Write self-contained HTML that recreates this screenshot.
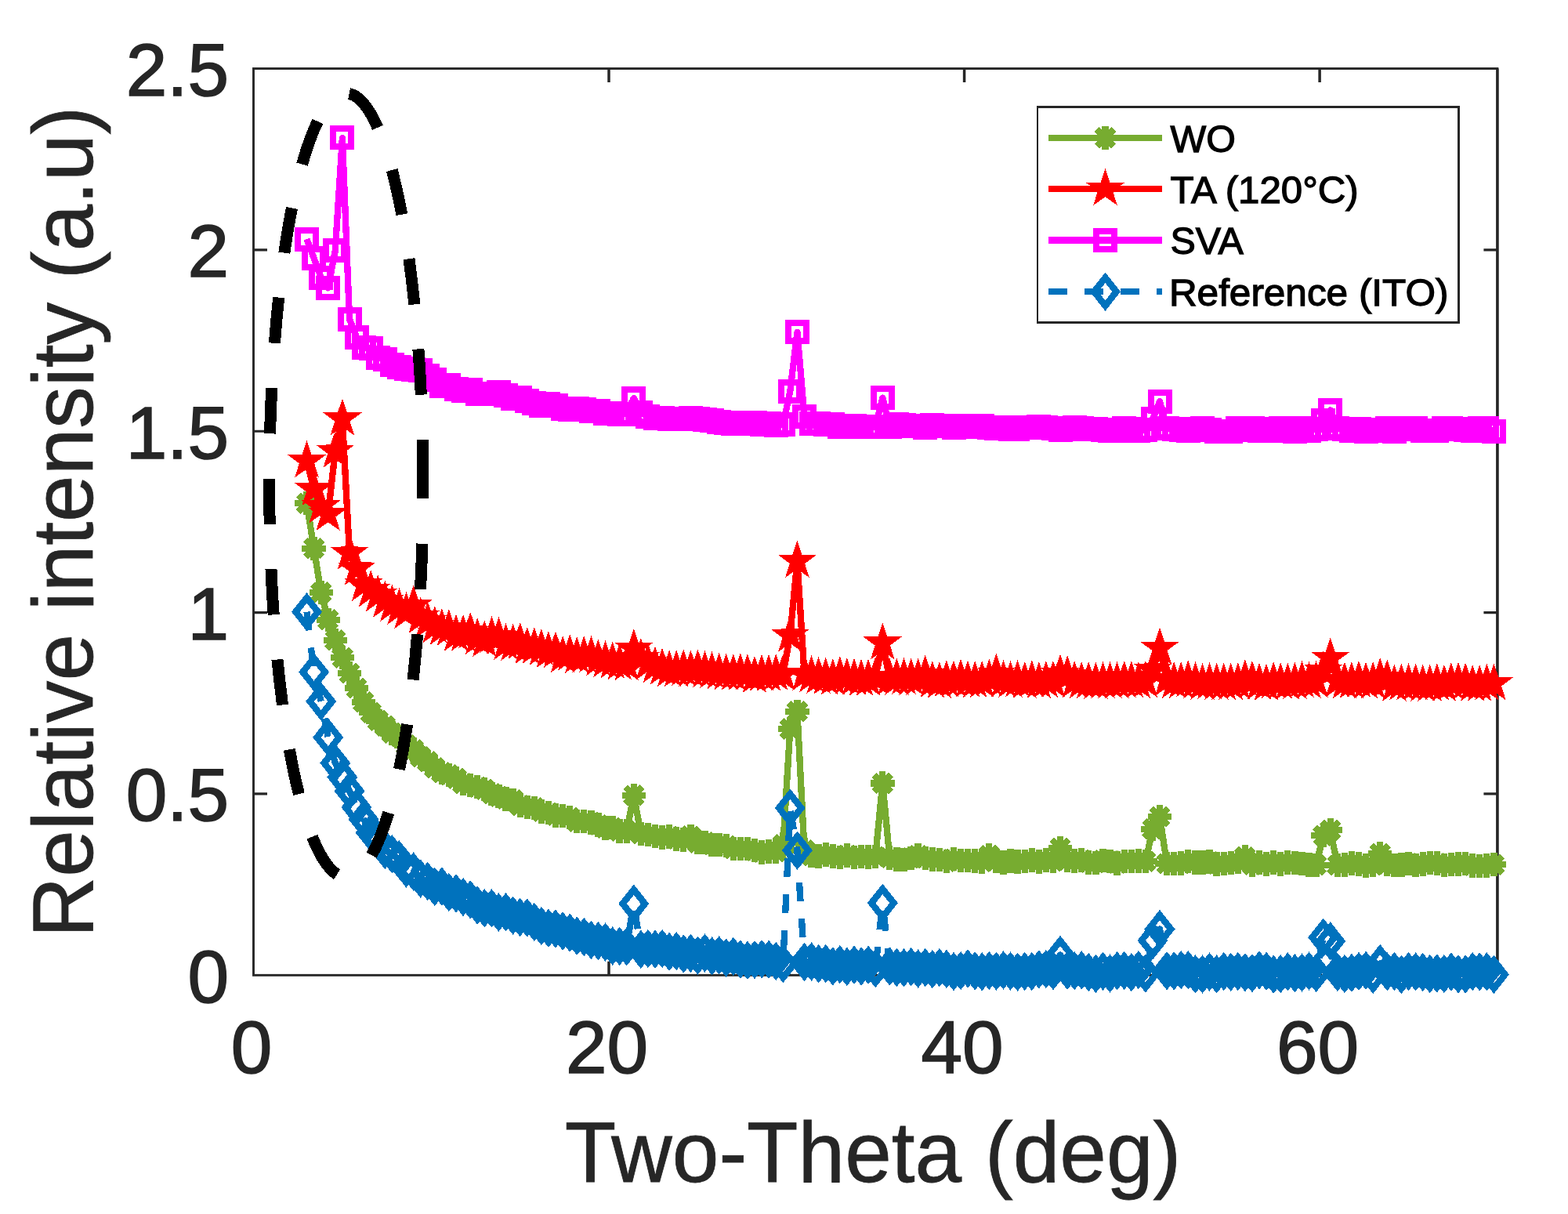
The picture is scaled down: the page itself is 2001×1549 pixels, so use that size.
<!DOCTYPE html><html><head><meta charset="utf-8"><title>XRD plot</title><style>html,body{margin:0;padding:0;background:#fff;width:2001px;height:1549px;overflow:hidden}svg{display:block}</style></head><body><svg width="2001" height="1549" viewBox="0 0 2001 1549" font-family="'Liberation Sans', Arial, Helvetica, sans-serif"><defs>
<path id="mA" d="M0,-15.2V15.2M-15.2,0H15.2M-10.75,-10.75L10.75,10.75M-10.75,10.75L10.75,-10.75" stroke="#77AC30" stroke-width="8.33" fill="none" stroke-linecap="butt"/>
<polygon id="mS" points="0.00,-26.00 6.00,-8.25 24.73,-8.03 9.70,3.15 15.28,21.03 0.00,10.20 -15.28,21.03 -9.70,3.15 -24.73,-8.03 -6.00,-8.25" fill="#FF0000"/>
<rect id="mQ" x="-11.5" y="-11.5" width="23" height="23" fill="none" stroke="#FF00FF" stroke-width="8"/>
<polygon id="mD" points="0,-17.9 14.2,0 0,17.9 -14.2,0" fill="none" stroke="#0072BD" stroke-width="8.4" stroke-linejoin="miter"/>
</defs><rect width="2001" height="1549" fill="#fff"/><rect x="323.5" y="87.5" width="1587.4" height="1156.8" fill="none" stroke="#262626" stroke-width="2.9"/><path d="M1910.9,87.5V1244.3" stroke="#262626" stroke-width="3.4" fill="none"/><path d="M777,1244.3V1226.8M777,87.5V105M1230.6,1244.3V1226.8M1230.6,87.5V105M1684.1,1244.3V1226.8M1684.1,87.5V105" stroke="#262626" stroke-width="3.5" fill="none"/><path d="M323.5,1012.9H341M1910.9,1012.9H1893.4M323.5,781.6H341M1910.9,781.6H1893.4M323.5,550.2H341M1910.9,550.2H1893.4M323.5,318.9H341M1910.9,318.9H1893.4" stroke="#262626" stroke-width="3.1" fill="none"/><g shape-rendering="crispEdges"><polyline points="391.5,642.3 400.6,699.7 409.7,756.1 418.7,790.8 427.8,816.9 436.9,839.3 446,859.1 455,877.9 464.1,895.7 473.2,909.1 482.2,919.5 491.3,926.6 500.4,935.4 509.5,939.8 518.5,950.4 527.6,956.4 536.7,965.5 545.7,972 554.8,979.9 563.9,985.7 572.9,988.9 582,993.2 591.1,999.8 600.2,1001.9 609.2,1004.3 618.3,1007.1 627.4,1012.9 636.4,1016.3 645.5,1019.4 654.6,1020.7 663.7,1027.5 672.7,1030 681.8,1031.1 690.9,1035.3 699.9,1037 709,1040.5 718.1,1041.2 727.2,1042.8 736.2,1048.2 745.3,1047.9 754.4,1049.4 763.4,1052.6 772.5,1056.3 781.6,1056.2 790.6,1060.3 799.7,1060.5 808.8,1014.8 817.9,1063.8 826.9,1065.1 836,1067 845.1,1068.6 854.1,1067.4 863.2,1070.4 872.3,1071.5 881.4,1067.1 890.4,1075.2 899.5,1074.9 908.6,1078.1 917.6,1078 926.7,1079.2 935.8,1082.9 944.9,1083.1 953.9,1083.2 963,1085.2 972.1,1087.4 981.1,1086.4 990.2,1086.7 999.3,1077.7 1008.3,930.1 1017.4,907.9 1026.5,1084.7 1035.6,1091.9 1044.6,1092.4 1053.7,1090.5 1062.8,1092.5 1071.8,1093.8 1080.9,1091.4 1090,1094 1099.1,1092.9 1108.1,1093.4 1117.2,1093.2 1126.3,999.5 1135.3,1094.4 1144.4,1096.3 1153.5,1096.9 1162.6,1094.9 1171.6,1091.6 1180.7,1095.2 1189.8,1096.6 1198.8,1097 1207.9,1099.1 1217,1096.2 1226.1,1098.2 1235.1,1097.9 1244.2,1098.6 1253.3,1099.3 1262.3,1091.6 1271.4,1098.3 1280.5,1100.5 1289.5,1098.3 1298.6,1099.5 1307.7,1098.8 1316.8,1097.5 1325.8,1099.5 1334.9,1097.6 1344,1098.7 1353,1081.9 1362.1,1097.7 1371.2,1098.6 1380.3,1097.5 1389.3,1100.6 1398.4,1100.8 1407.5,1097.9 1416.5,1098.9 1425.6,1101.3 1434.7,1098.8 1443.8,1098.9 1452.8,1098.3 1461.9,1099.2 1471,1057.8 1480,1042.1 1489.1,1102 1498.2,1102.1 1507.2,1101.4 1516.3,1099.2 1525.4,1100.5 1534.5,1100.6 1543.5,1099.6 1552.6,1102.4 1561.7,1101.9 1570.7,1100.9 1579.8,1099.5 1588.9,1093.5 1598,1103.3 1607,1100.5 1616.1,1102.7 1625.2,1100.6 1634.2,1102.3 1643.3,1100.6 1652.4,1101.1 1661.5,1101.9 1670.5,1103.5 1679.6,1103.8 1688.7,1066.2 1697.7,1059.2 1706.8,1103.8 1715.9,1103.4 1724.9,1101.7 1734,1102.3 1743.1,1104.4 1752.2,1104.2 1761.2,1089.3 1770.3,1102.5 1779.4,1103.9 1788.4,1103.7 1797.5,1101.9 1806.6,1104 1815.7,1102.6 1824.7,1101.2 1833.8,1101.7 1842.9,1104 1851.9,1103.1 1861,1102.6 1870.1,1101.9 1879.2,1104.4 1888.2,1104.9 1897.3,1104.7 1906.4,1103.2" fill="none" stroke="#77AC30" stroke-width="8.33" stroke-linejoin="round"/><use href="#mA" x="391.5" y="642.3"/><use href="#mA" x="400.6" y="699.7"/><use href="#mA" x="409.7" y="756.1"/><use href="#mA" x="418.7" y="790.8"/><use href="#mA" x="427.8" y="816.9"/><use href="#mA" x="436.9" y="839.3"/><use href="#mA" x="446" y="859.1"/><use href="#mA" x="455" y="877.9"/><use href="#mA" x="464.1" y="895.7"/><use href="#mA" x="473.2" y="909.1"/><use href="#mA" x="482.2" y="919.5"/><use href="#mA" x="491.3" y="926.6"/><use href="#mA" x="500.4" y="935.4"/><use href="#mA" x="509.5" y="939.8"/><use href="#mA" x="518.5" y="950.4"/><use href="#mA" x="527.6" y="956.4"/><use href="#mA" x="536.7" y="965.5"/><use href="#mA" x="545.7" y="972"/><use href="#mA" x="554.8" y="979.9"/><use href="#mA" x="563.9" y="985.7"/><use href="#mA" x="572.9" y="988.9"/><use href="#mA" x="582" y="993.2"/><use href="#mA" x="591.1" y="999.8"/><use href="#mA" x="600.2" y="1001.9"/><use href="#mA" x="609.2" y="1004.3"/><use href="#mA" x="618.3" y="1007.1"/><use href="#mA" x="627.4" y="1012.9"/><use href="#mA" x="636.4" y="1016.3"/><use href="#mA" x="645.5" y="1019.4"/><use href="#mA" x="654.6" y="1020.7"/><use href="#mA" x="663.7" y="1027.5"/><use href="#mA" x="672.7" y="1030"/><use href="#mA" x="681.8" y="1031.1"/><use href="#mA" x="690.9" y="1035.3"/><use href="#mA" x="699.9" y="1037"/><use href="#mA" x="709" y="1040.5"/><use href="#mA" x="718.1" y="1041.2"/><use href="#mA" x="727.2" y="1042.8"/><use href="#mA" x="736.2" y="1048.2"/><use href="#mA" x="745.3" y="1047.9"/><use href="#mA" x="754.4" y="1049.4"/><use href="#mA" x="763.4" y="1052.6"/><use href="#mA" x="772.5" y="1056.3"/><use href="#mA" x="781.6" y="1056.2"/><use href="#mA" x="790.6" y="1060.3"/><use href="#mA" x="799.7" y="1060.5"/><use href="#mA" x="808.8" y="1014.8"/><use href="#mA" x="817.9" y="1063.8"/><use href="#mA" x="826.9" y="1065.1"/><use href="#mA" x="836" y="1067"/><use href="#mA" x="845.1" y="1068.6"/><use href="#mA" x="854.1" y="1067.4"/><use href="#mA" x="863.2" y="1070.4"/><use href="#mA" x="872.3" y="1071.5"/><use href="#mA" x="881.4" y="1067.1"/><use href="#mA" x="890.4" y="1075.2"/><use href="#mA" x="899.5" y="1074.9"/><use href="#mA" x="908.6" y="1078.1"/><use href="#mA" x="917.6" y="1078"/><use href="#mA" x="926.7" y="1079.2"/><use href="#mA" x="935.8" y="1082.9"/><use href="#mA" x="944.9" y="1083.1"/><use href="#mA" x="953.9" y="1083.2"/><use href="#mA" x="963" y="1085.2"/><use href="#mA" x="972.1" y="1087.4"/><use href="#mA" x="981.1" y="1086.4"/><use href="#mA" x="990.2" y="1086.7"/><use href="#mA" x="999.3" y="1077.7"/><use href="#mA" x="1008.3" y="930.1"/><use href="#mA" x="1017.4" y="907.9"/><use href="#mA" x="1026.5" y="1084.7"/><use href="#mA" x="1035.6" y="1091.9"/><use href="#mA" x="1044.6" y="1092.4"/><use href="#mA" x="1053.7" y="1090.5"/><use href="#mA" x="1062.8" y="1092.5"/><use href="#mA" x="1071.8" y="1093.8"/><use href="#mA" x="1080.9" y="1091.4"/><use href="#mA" x="1090" y="1094"/><use href="#mA" x="1099.1" y="1092.9"/><use href="#mA" x="1108.1" y="1093.4"/><use href="#mA" x="1117.2" y="1093.2"/><use href="#mA" x="1126.3" y="999.5"/><use href="#mA" x="1135.3" y="1094.4"/><use href="#mA" x="1144.4" y="1096.3"/><use href="#mA" x="1153.5" y="1096.9"/><use href="#mA" x="1162.6" y="1094.9"/><use href="#mA" x="1171.6" y="1091.6"/><use href="#mA" x="1180.7" y="1095.2"/><use href="#mA" x="1189.8" y="1096.6"/><use href="#mA" x="1198.8" y="1097"/><use href="#mA" x="1207.9" y="1099.1"/><use href="#mA" x="1217" y="1096.2"/><use href="#mA" x="1226.1" y="1098.2"/><use href="#mA" x="1235.1" y="1097.9"/><use href="#mA" x="1244.2" y="1098.6"/><use href="#mA" x="1253.3" y="1099.3"/><use href="#mA" x="1262.3" y="1091.6"/><use href="#mA" x="1271.4" y="1098.3"/><use href="#mA" x="1280.5" y="1100.5"/><use href="#mA" x="1289.5" y="1098.3"/><use href="#mA" x="1298.6" y="1099.5"/><use href="#mA" x="1307.7" y="1098.8"/><use href="#mA" x="1316.8" y="1097.5"/><use href="#mA" x="1325.8" y="1099.5"/><use href="#mA" x="1334.9" y="1097.6"/><use href="#mA" x="1344" y="1098.7"/><use href="#mA" x="1353" y="1081.9"/><use href="#mA" x="1362.1" y="1097.7"/><use href="#mA" x="1371.2" y="1098.6"/><use href="#mA" x="1380.3" y="1097.5"/><use href="#mA" x="1389.3" y="1100.6"/><use href="#mA" x="1398.4" y="1100.8"/><use href="#mA" x="1407.5" y="1097.9"/><use href="#mA" x="1416.5" y="1098.9"/><use href="#mA" x="1425.6" y="1101.3"/><use href="#mA" x="1434.7" y="1098.8"/><use href="#mA" x="1443.8" y="1098.9"/><use href="#mA" x="1452.8" y="1098.3"/><use href="#mA" x="1461.9" y="1099.2"/><use href="#mA" x="1471" y="1057.8"/><use href="#mA" x="1480" y="1042.1"/><use href="#mA" x="1489.1" y="1102"/><use href="#mA" x="1498.2" y="1102.1"/><use href="#mA" x="1507.2" y="1101.4"/><use href="#mA" x="1516.3" y="1099.2"/><use href="#mA" x="1525.4" y="1100.5"/><use href="#mA" x="1534.5" y="1100.6"/><use href="#mA" x="1543.5" y="1099.6"/><use href="#mA" x="1552.6" y="1102.4"/><use href="#mA" x="1561.7" y="1101.9"/><use href="#mA" x="1570.7" y="1100.9"/><use href="#mA" x="1579.8" y="1099.5"/><use href="#mA" x="1588.9" y="1093.5"/><use href="#mA" x="1598" y="1103.3"/><use href="#mA" x="1607" y="1100.5"/><use href="#mA" x="1616.1" y="1102.7"/><use href="#mA" x="1625.2" y="1100.6"/><use href="#mA" x="1634.2" y="1102.3"/><use href="#mA" x="1643.3" y="1100.6"/><use href="#mA" x="1652.4" y="1101.1"/><use href="#mA" x="1661.5" y="1101.9"/><use href="#mA" x="1670.5" y="1103.5"/><use href="#mA" x="1679.6" y="1103.8"/><use href="#mA" x="1688.7" y="1066.2"/><use href="#mA" x="1697.7" y="1059.2"/><use href="#mA" x="1706.8" y="1103.8"/><use href="#mA" x="1715.9" y="1103.4"/><use href="#mA" x="1724.9" y="1101.7"/><use href="#mA" x="1734" y="1102.3"/><use href="#mA" x="1743.1" y="1104.4"/><use href="#mA" x="1752.2" y="1104.2"/><use href="#mA" x="1761.2" y="1089.3"/><use href="#mA" x="1770.3" y="1102.5"/><use href="#mA" x="1779.4" y="1103.9"/><use href="#mA" x="1788.4" y="1103.7"/><use href="#mA" x="1797.5" y="1101.9"/><use href="#mA" x="1806.6" y="1104"/><use href="#mA" x="1815.7" y="1102.6"/><use href="#mA" x="1824.7" y="1101.2"/><use href="#mA" x="1833.8" y="1101.7"/><use href="#mA" x="1842.9" y="1104"/><use href="#mA" x="1851.9" y="1103.1"/><use href="#mA" x="1861" y="1102.6"/><use href="#mA" x="1870.1" y="1101.9"/><use href="#mA" x="1879.2" y="1104.4"/><use href="#mA" x="1888.2" y="1104.9"/><use href="#mA" x="1897.3" y="1104.7"/><use href="#mA" x="1906.4" y="1103.2"/><polyline points="391.5,588.2 400.6,624.3 409.7,646.5 418.7,656.2 427.8,575.7 436.9,534.5 446,705.7 455,725.6 464.1,746 473.2,753.4 482.2,759.4 491.3,766.8 500.4,771.9 509.5,776 518.5,781.1 527.6,772.8 536.7,787.1 545.7,793.1 554.8,799.2 563.9,801.9 572.9,802.9 582,809.8 591.1,809.8 600.2,806.6 609.2,814 618.3,817.2 627.4,812.1 636.4,813 645.5,820.9 654.6,821.8 663.7,820 672.7,826 681.8,826 690.9,827.9 699.9,831.1 709,831.1 718.1,837.1 727.2,834.8 736.2,838 745.3,837.1 754.4,837.1 763.4,841.3 772.5,843.1 781.6,844.5 790.6,846.4 799.7,847.3 808.8,827.9 817.9,839.9 826.9,846.4 836,850.1 845.1,852.4 854.1,855.2 863.2,855.2 872.3,854.2 881.4,855.2 890.4,854.2 899.5,856.1 908.6,857 917.6,858.4 926.7,859.3 935.8,859.8 944.9,859.3 953.9,859.8 963,863 972.1,860.7 981.1,860.7 990.2,859.8 999.3,860.2 1008.3,810.7 1017.4,715.9 1026.5,860.2 1035.6,862.1 1044.6,863.9 1053.7,864.9 1062.8,865.8 1071.8,863 1080.9,864.9 1090,865.8 1099.1,866.7 1108.1,866.7 1117.2,864.4 1126.3,820.4 1135.3,865.8 1144.4,865.8 1153.5,864.9 1162.6,865.8 1171.6,865.8 1180.7,861.2 1189.8,869 1198.8,870 1207.9,868.1 1217,868.1 1226.1,866.7 1235.1,868.6 1244.2,869 1253.3,869 1262.3,866.3 1271.4,859.8 1280.5,868.1 1289.5,869 1298.6,868.1 1307.7,870 1316.8,868.1 1325.8,870 1334.9,869 1344,869 1353,860.2 1362.1,862.1 1371.2,869 1380.3,870 1389.3,870 1398.4,870.9 1407.5,870 1416.5,870 1425.6,870 1434.7,869 1443.8,869 1452.8,870 1461.9,869 1471,854.7 1480,826.9 1489.1,867.2 1498.2,870 1507.2,870 1516.3,868.1 1525.4,870 1534.5,871.8 1543.5,870.9 1552.6,871.8 1561.7,871.8 1570.7,871.8 1579.8,870.9 1588.9,867.2 1598,869 1607,871.8 1616.1,872.7 1625.2,870 1634.2,870.9 1643.3,871.8 1652.4,870.9 1661.5,869 1670.5,870 1679.6,869 1688.7,856.1 1697.7,839.9 1706.8,868.6 1715.9,870.4 1724.9,870 1734,869 1743.1,870.4 1752.2,870.4 1761.2,865.3 1770.3,867.2 1779.4,873.7 1788.4,872.3 1797.5,872.3 1806.6,872.3 1815.7,873.7 1824.7,873.7 1833.8,872.3 1842.9,873.7 1851.9,871.3 1861,870.4 1870.1,871.3 1879.2,873.7 1888.2,873.7 1897.3,872.3 1906.4,872.3" fill="none" stroke="#FF0000" stroke-width="8.33" stroke-linejoin="round"/><use href="#mS" x="391.5" y="588.2"/><use href="#mS" x="400.6" y="624.3"/><use href="#mS" x="409.7" y="646.5"/><use href="#mS" x="418.7" y="656.2"/><use href="#mS" x="427.8" y="575.7"/><use href="#mS" x="436.9" y="534.5"/><use href="#mS" x="446" y="705.7"/><use href="#mS" x="455" y="725.6"/><use href="#mS" x="464.1" y="746"/><use href="#mS" x="473.2" y="753.4"/><use href="#mS" x="482.2" y="759.4"/><use href="#mS" x="491.3" y="766.8"/><use href="#mS" x="500.4" y="771.9"/><use href="#mS" x="509.5" y="776"/><use href="#mS" x="518.5" y="781.1"/><use href="#mS" x="527.6" y="772.8"/><use href="#mS" x="536.7" y="787.1"/><use href="#mS" x="545.7" y="793.1"/><use href="#mS" x="554.8" y="799.2"/><use href="#mS" x="563.9" y="801.9"/><use href="#mS" x="572.9" y="802.9"/><use href="#mS" x="582" y="809.8"/><use href="#mS" x="591.1" y="809.8"/><use href="#mS" x="600.2" y="806.6"/><use href="#mS" x="609.2" y="814"/><use href="#mS" x="618.3" y="817.2"/><use href="#mS" x="627.4" y="812.1"/><use href="#mS" x="636.4" y="813"/><use href="#mS" x="645.5" y="820.9"/><use href="#mS" x="654.6" y="821.8"/><use href="#mS" x="663.7" y="820"/><use href="#mS" x="672.7" y="826"/><use href="#mS" x="681.8" y="826"/><use href="#mS" x="690.9" y="827.9"/><use href="#mS" x="699.9" y="831.1"/><use href="#mS" x="709" y="831.1"/><use href="#mS" x="718.1" y="837.1"/><use href="#mS" x="727.2" y="834.8"/><use href="#mS" x="736.2" y="838"/><use href="#mS" x="745.3" y="837.1"/><use href="#mS" x="754.4" y="837.1"/><use href="#mS" x="763.4" y="841.3"/><use href="#mS" x="772.5" y="843.1"/><use href="#mS" x="781.6" y="844.5"/><use href="#mS" x="790.6" y="846.4"/><use href="#mS" x="799.7" y="847.3"/><use href="#mS" x="808.8" y="827.9"/><use href="#mS" x="817.9" y="839.9"/><use href="#mS" x="826.9" y="846.4"/><use href="#mS" x="836" y="850.1"/><use href="#mS" x="845.1" y="852.4"/><use href="#mS" x="854.1" y="855.2"/><use href="#mS" x="863.2" y="855.2"/><use href="#mS" x="872.3" y="854.2"/><use href="#mS" x="881.4" y="855.2"/><use href="#mS" x="890.4" y="854.2"/><use href="#mS" x="899.5" y="856.1"/><use href="#mS" x="908.6" y="857"/><use href="#mS" x="917.6" y="858.4"/><use href="#mS" x="926.7" y="859.3"/><use href="#mS" x="935.8" y="859.8"/><use href="#mS" x="944.9" y="859.3"/><use href="#mS" x="953.9" y="859.8"/><use href="#mS" x="963" y="863"/><use href="#mS" x="972.1" y="860.7"/><use href="#mS" x="981.1" y="860.7"/><use href="#mS" x="990.2" y="859.8"/><use href="#mS" x="999.3" y="860.2"/><use href="#mS" x="1008.3" y="810.7"/><use href="#mS" x="1017.4" y="715.9"/><use href="#mS" x="1026.5" y="860.2"/><use href="#mS" x="1035.6" y="862.1"/><use href="#mS" x="1044.6" y="863.9"/><use href="#mS" x="1053.7" y="864.9"/><use href="#mS" x="1062.8" y="865.8"/><use href="#mS" x="1071.8" y="863"/><use href="#mS" x="1080.9" y="864.9"/><use href="#mS" x="1090" y="865.8"/><use href="#mS" x="1099.1" y="866.7"/><use href="#mS" x="1108.1" y="866.7"/><use href="#mS" x="1117.2" y="864.4"/><use href="#mS" x="1126.3" y="820.4"/><use href="#mS" x="1135.3" y="865.8"/><use href="#mS" x="1144.4" y="865.8"/><use href="#mS" x="1153.5" y="864.9"/><use href="#mS" x="1162.6" y="865.8"/><use href="#mS" x="1171.6" y="865.8"/><use href="#mS" x="1180.7" y="861.2"/><use href="#mS" x="1189.8" y="869"/><use href="#mS" x="1198.8" y="870"/><use href="#mS" x="1207.9" y="868.1"/><use href="#mS" x="1217" y="868.1"/><use href="#mS" x="1226.1" y="866.7"/><use href="#mS" x="1235.1" y="868.6"/><use href="#mS" x="1244.2" y="869"/><use href="#mS" x="1253.3" y="869"/><use href="#mS" x="1262.3" y="866.3"/><use href="#mS" x="1271.4" y="859.8"/><use href="#mS" x="1280.5" y="868.1"/><use href="#mS" x="1289.5" y="869"/><use href="#mS" x="1298.6" y="868.1"/><use href="#mS" x="1307.7" y="870"/><use href="#mS" x="1316.8" y="868.1"/><use href="#mS" x="1325.8" y="870"/><use href="#mS" x="1334.9" y="869"/><use href="#mS" x="1344" y="869"/><use href="#mS" x="1353" y="860.2"/><use href="#mS" x="1362.1" y="862.1"/><use href="#mS" x="1371.2" y="869"/><use href="#mS" x="1380.3" y="870"/><use href="#mS" x="1389.3" y="870"/><use href="#mS" x="1398.4" y="870.9"/><use href="#mS" x="1407.5" y="870"/><use href="#mS" x="1416.5" y="870"/><use href="#mS" x="1425.6" y="870"/><use href="#mS" x="1434.7" y="869"/><use href="#mS" x="1443.8" y="869"/><use href="#mS" x="1452.8" y="870"/><use href="#mS" x="1461.9" y="869"/><use href="#mS" x="1471" y="854.7"/><use href="#mS" x="1480" y="826.9"/><use href="#mS" x="1489.1" y="867.2"/><use href="#mS" x="1498.2" y="870"/><use href="#mS" x="1507.2" y="870"/><use href="#mS" x="1516.3" y="868.1"/><use href="#mS" x="1525.4" y="870"/><use href="#mS" x="1534.5" y="871.8"/><use href="#mS" x="1543.5" y="870.9"/><use href="#mS" x="1552.6" y="871.8"/><use href="#mS" x="1561.7" y="871.8"/><use href="#mS" x="1570.7" y="871.8"/><use href="#mS" x="1579.8" y="870.9"/><use href="#mS" x="1588.9" y="867.2"/><use href="#mS" x="1598" y="869"/><use href="#mS" x="1607" y="871.8"/><use href="#mS" x="1616.1" y="872.7"/><use href="#mS" x="1625.2" y="870"/><use href="#mS" x="1634.2" y="870.9"/><use href="#mS" x="1643.3" y="871.8"/><use href="#mS" x="1652.4" y="870.9"/><use href="#mS" x="1661.5" y="869"/><use href="#mS" x="1670.5" y="870"/><use href="#mS" x="1679.6" y="869"/><use href="#mS" x="1688.7" y="856.1"/><use href="#mS" x="1697.7" y="839.9"/><use href="#mS" x="1706.8" y="868.6"/><use href="#mS" x="1715.9" y="870.4"/><use href="#mS" x="1724.9" y="870"/><use href="#mS" x="1734" y="869"/><use href="#mS" x="1743.1" y="870.4"/><use href="#mS" x="1752.2" y="870.4"/><use href="#mS" x="1761.2" y="865.3"/><use href="#mS" x="1770.3" y="867.2"/><use href="#mS" x="1779.4" y="873.7"/><use href="#mS" x="1788.4" y="872.3"/><use href="#mS" x="1797.5" y="872.3"/><use href="#mS" x="1806.6" y="872.3"/><use href="#mS" x="1815.7" y="873.7"/><use href="#mS" x="1824.7" y="873.7"/><use href="#mS" x="1833.8" y="872.3"/><use href="#mS" x="1842.9" y="873.7"/><use href="#mS" x="1851.9" y="871.3"/><use href="#mS" x="1861" y="870.4"/><use href="#mS" x="1870.1" y="871.3"/><use href="#mS" x="1879.2" y="873.7"/><use href="#mS" x="1888.2" y="873.7"/><use href="#mS" x="1897.3" y="872.3"/><use href="#mS" x="1906.4" y="872.3"/><polyline points="391.5,305 400.6,329.5 409.7,354 418.7,367.4 427.8,319.8 436.9,175.9 446,407.2 455,430.4 464.1,443.3 473.2,444.7 482.2,456.3 491.3,458.6 500.4,465.5 509.5,468.3 518.5,470.2 527.6,471.6 536.7,472.9 545.7,479.4 554.8,484.5 563.9,492.4 572.9,491.5 582,496.1 591.1,498.4 600.2,497.5 609.2,502.6 618.3,502.6 627.4,502.6 636.4,500.2 645.5,504.9 654.6,508.6 663.7,507.6 672.7,511.8 681.8,514.1 690.9,517.4 699.9,515.5 709,517.8 718.1,521.1 727.2,522.9 736.2,521.5 745.3,522.5 754.4,524.3 763.4,524.8 772.5,527.5 781.6,527.5 790.6,528 799.7,528 808.8,508.1 817.9,526.6 826.9,531.2 836,533.1 845.1,533.6 854.1,534.5 863.2,534.5 872.3,534 881.4,533.6 890.4,534 899.5,535 908.6,536.8 917.6,538.2 926.7,539.6 935.8,540.3 944.9,539.1 953.9,540.7 963,539.7 972.1,541 981.1,540.6 990.2,542.6 999.3,541.9 1008.3,499.3 1017.4,423.9 1026.5,531.2 1035.6,540.7 1044.6,540.6 1053.7,541.9 1062.8,541.6 1071.8,544.2 1080.9,544.3 1090,543.9 1099.1,544.3 1108.1,544.7 1117.2,544.8 1126.3,507.6 1135.3,544.9 1144.4,541.5 1153.5,542.9 1162.6,543.8 1171.6,543.2 1180.7,545.4 1189.8,542.5 1198.8,543 1207.9,543.7 1217,545 1226.1,543.5 1235.1,544.1 1244.2,544.6 1253.3,543.6 1262.3,545 1271.4,546.4 1280.5,545.7 1289.5,547.4 1298.6,547.6 1307.7,545.3 1316.8,545.1 1325.8,544.4 1334.9,545.1 1344,546.6 1353,548.9 1362.1,547.1 1371.2,545.2 1380.3,546 1389.3,547.5 1398.4,547.7 1407.5,548.9 1416.5,549.2 1425.6,549.7 1434.7,546 1443.8,547.2 1452.8,549.5 1461.9,548.3 1471,534.5 1480,512.3 1489.1,546.9 1498.2,547.3 1507.2,548.2 1516.3,549.1 1525.4,547.4 1534.5,546 1543.5,548.5 1552.6,550.2 1561.7,550.3 1570.7,550.2 1579.8,546.1 1588.9,548.1 1598,546.7 1607,549.8 1616.1,549.4 1625.2,547.4 1634.2,546.5 1643.3,549.1 1652.4,550.4 1661.5,546.7 1670.5,549.3 1679.6,547.3 1688.7,536.3 1697.7,523.4 1706.8,546.8 1715.9,547.3 1724.9,549 1734,547.3 1743.1,550 1752.2,549.2 1761.2,548.7 1770.3,546.6 1779.4,550 1788.4,546.6 1797.5,547 1806.6,546.2 1815.7,549 1824.7,549.7 1833.8,549.6 1842.9,546.9 1851.9,546.2 1861,547.4 1870.1,548.5 1879.2,549.4 1888.2,546.8 1897.3,546.6 1906.4,550.3" fill="none" stroke="#FF00FF" stroke-width="8.33" stroke-linejoin="round"/><use href="#mQ" x="391.5" y="305"/><use href="#mQ" x="400.6" y="329.5"/><use href="#mQ" x="409.7" y="354"/><use href="#mQ" x="418.7" y="367.4"/><use href="#mQ" x="427.8" y="319.8"/><use href="#mQ" x="436.9" y="175.9"/><use href="#mQ" x="446" y="407.2"/><use href="#mQ" x="455" y="430.4"/><use href="#mQ" x="464.1" y="443.3"/><use href="#mQ" x="473.2" y="444.7"/><use href="#mQ" x="482.2" y="456.3"/><use href="#mQ" x="491.3" y="458.6"/><use href="#mQ" x="500.4" y="465.5"/><use href="#mQ" x="509.5" y="468.3"/><use href="#mQ" x="518.5" y="470.2"/><use href="#mQ" x="527.6" y="471.6"/><use href="#mQ" x="536.7" y="472.9"/><use href="#mQ" x="545.7" y="479.4"/><use href="#mQ" x="554.8" y="484.5"/><use href="#mQ" x="563.9" y="492.4"/><use href="#mQ" x="572.9" y="491.5"/><use href="#mQ" x="582" y="496.1"/><use href="#mQ" x="591.1" y="498.4"/><use href="#mQ" x="600.2" y="497.5"/><use href="#mQ" x="609.2" y="502.6"/><use href="#mQ" x="618.3" y="502.6"/><use href="#mQ" x="627.4" y="502.6"/><use href="#mQ" x="636.4" y="500.2"/><use href="#mQ" x="645.5" y="504.9"/><use href="#mQ" x="654.6" y="508.6"/><use href="#mQ" x="663.7" y="507.6"/><use href="#mQ" x="672.7" y="511.8"/><use href="#mQ" x="681.8" y="514.1"/><use href="#mQ" x="690.9" y="517.4"/><use href="#mQ" x="699.9" y="515.5"/><use href="#mQ" x="709" y="517.8"/><use href="#mQ" x="718.1" y="521.1"/><use href="#mQ" x="727.2" y="522.9"/><use href="#mQ" x="736.2" y="521.5"/><use href="#mQ" x="745.3" y="522.5"/><use href="#mQ" x="754.4" y="524.3"/><use href="#mQ" x="763.4" y="524.8"/><use href="#mQ" x="772.5" y="527.5"/><use href="#mQ" x="781.6" y="527.5"/><use href="#mQ" x="790.6" y="528"/><use href="#mQ" x="799.7" y="528"/><use href="#mQ" x="808.8" y="508.1"/><use href="#mQ" x="817.9" y="526.6"/><use href="#mQ" x="826.9" y="531.2"/><use href="#mQ" x="836" y="533.1"/><use href="#mQ" x="845.1" y="533.6"/><use href="#mQ" x="854.1" y="534.5"/><use href="#mQ" x="863.2" y="534.5"/><use href="#mQ" x="872.3" y="534"/><use href="#mQ" x="881.4" y="533.6"/><use href="#mQ" x="890.4" y="534"/><use href="#mQ" x="899.5" y="535"/><use href="#mQ" x="908.6" y="536.8"/><use href="#mQ" x="917.6" y="538.2"/><use href="#mQ" x="926.7" y="539.6"/><use href="#mQ" x="935.8" y="540.3"/><use href="#mQ" x="944.9" y="539.1"/><use href="#mQ" x="953.9" y="540.7"/><use href="#mQ" x="963" y="539.7"/><use href="#mQ" x="972.1" y="541"/><use href="#mQ" x="981.1" y="540.6"/><use href="#mQ" x="990.2" y="542.6"/><use href="#mQ" x="999.3" y="541.9"/><use href="#mQ" x="1008.3" y="499.3"/><use href="#mQ" x="1017.4" y="423.9"/><use href="#mQ" x="1026.5" y="531.2"/><use href="#mQ" x="1035.6" y="540.7"/><use href="#mQ" x="1044.6" y="540.6"/><use href="#mQ" x="1053.7" y="541.9"/><use href="#mQ" x="1062.8" y="541.6"/><use href="#mQ" x="1071.8" y="544.2"/><use href="#mQ" x="1080.9" y="544.3"/><use href="#mQ" x="1090" y="543.9"/><use href="#mQ" x="1099.1" y="544.3"/><use href="#mQ" x="1108.1" y="544.7"/><use href="#mQ" x="1117.2" y="544.8"/><use href="#mQ" x="1126.3" y="507.6"/><use href="#mQ" x="1135.3" y="544.9"/><use href="#mQ" x="1144.4" y="541.5"/><use href="#mQ" x="1153.5" y="542.9"/><use href="#mQ" x="1162.6" y="543.8"/><use href="#mQ" x="1171.6" y="543.2"/><use href="#mQ" x="1180.7" y="545.4"/><use href="#mQ" x="1189.8" y="542.5"/><use href="#mQ" x="1198.8" y="543"/><use href="#mQ" x="1207.9" y="543.7"/><use href="#mQ" x="1217" y="545"/><use href="#mQ" x="1226.1" y="543.5"/><use href="#mQ" x="1235.1" y="544.1"/><use href="#mQ" x="1244.2" y="544.6"/><use href="#mQ" x="1253.3" y="543.6"/><use href="#mQ" x="1262.3" y="545"/><use href="#mQ" x="1271.4" y="546.4"/><use href="#mQ" x="1280.5" y="545.7"/><use href="#mQ" x="1289.5" y="547.4"/><use href="#mQ" x="1298.6" y="547.6"/><use href="#mQ" x="1307.7" y="545.3"/><use href="#mQ" x="1316.8" y="545.1"/><use href="#mQ" x="1325.8" y="544.4"/><use href="#mQ" x="1334.9" y="545.1"/><use href="#mQ" x="1344" y="546.6"/><use href="#mQ" x="1353" y="548.9"/><use href="#mQ" x="1362.1" y="547.1"/><use href="#mQ" x="1371.2" y="545.2"/><use href="#mQ" x="1380.3" y="546"/><use href="#mQ" x="1389.3" y="547.5"/><use href="#mQ" x="1398.4" y="547.7"/><use href="#mQ" x="1407.5" y="548.9"/><use href="#mQ" x="1416.5" y="549.2"/><use href="#mQ" x="1425.6" y="549.7"/><use href="#mQ" x="1434.7" y="546"/><use href="#mQ" x="1443.8" y="547.2"/><use href="#mQ" x="1452.8" y="549.5"/><use href="#mQ" x="1461.9" y="548.3"/><use href="#mQ" x="1471" y="534.5"/><use href="#mQ" x="1480" y="512.3"/><use href="#mQ" x="1489.1" y="546.9"/><use href="#mQ" x="1498.2" y="547.3"/><use href="#mQ" x="1507.2" y="548.2"/><use href="#mQ" x="1516.3" y="549.1"/><use href="#mQ" x="1525.4" y="547.4"/><use href="#mQ" x="1534.5" y="546"/><use href="#mQ" x="1543.5" y="548.5"/><use href="#mQ" x="1552.6" y="550.2"/><use href="#mQ" x="1561.7" y="550.3"/><use href="#mQ" x="1570.7" y="550.2"/><use href="#mQ" x="1579.8" y="546.1"/><use href="#mQ" x="1588.9" y="548.1"/><use href="#mQ" x="1598" y="546.7"/><use href="#mQ" x="1607" y="549.8"/><use href="#mQ" x="1616.1" y="549.4"/><use href="#mQ" x="1625.2" y="547.4"/><use href="#mQ" x="1634.2" y="546.5"/><use href="#mQ" x="1643.3" y="549.1"/><use href="#mQ" x="1652.4" y="550.4"/><use href="#mQ" x="1661.5" y="546.7"/><use href="#mQ" x="1670.5" y="549.3"/><use href="#mQ" x="1679.6" y="547.3"/><use href="#mQ" x="1688.7" y="536.3"/><use href="#mQ" x="1697.7" y="523.4"/><use href="#mQ" x="1706.8" y="546.8"/><use href="#mQ" x="1715.9" y="547.3"/><use href="#mQ" x="1724.9" y="549"/><use href="#mQ" x="1734" y="547.3"/><use href="#mQ" x="1743.1" y="550"/><use href="#mQ" x="1752.2" y="549.2"/><use href="#mQ" x="1761.2" y="548.7"/><use href="#mQ" x="1770.3" y="546.6"/><use href="#mQ" x="1779.4" y="550"/><use href="#mQ" x="1788.4" y="546.6"/><use href="#mQ" x="1797.5" y="547"/><use href="#mQ" x="1806.6" y="546.2"/><use href="#mQ" x="1815.7" y="549"/><use href="#mQ" x="1824.7" y="549.7"/><use href="#mQ" x="1833.8" y="549.6"/><use href="#mQ" x="1842.9" y="546.9"/><use href="#mQ" x="1851.9" y="546.2"/><use href="#mQ" x="1861" y="547.4"/><use href="#mQ" x="1870.1" y="548.5"/><use href="#mQ" x="1879.2" y="549.4"/><use href="#mQ" x="1888.2" y="546.8"/><use href="#mQ" x="1897.3" y="546.6"/><use href="#mQ" x="1906.4" y="550.3"/><polyline points="391.5,780.7 400.6,857.5 409.7,894.9 418.7,940.8 427.8,973.6 436.9,991.7 446,1009.2 455,1030.1 464.1,1045.3 473.2,1062.5 482.2,1071.3 491.3,1084.5 500.4,1089.8 509.5,1096.9 518.5,1108.1 527.6,1112 536.7,1121.1 545.7,1124.4 554.8,1131.4 563.9,1131.1 572.9,1138.5 582,1139.8 591.1,1144.6 600.2,1147.8 609.2,1155 618.3,1158.7 627.4,1158.8 636.4,1164 645.5,1163.7 654.6,1168.2 663.7,1170.4 672.7,1171 681.8,1176.3 690.9,1181.6 699.9,1184.2 709,1185 718.1,1188 727.2,1190.2 736.2,1194.2 745.3,1195.5 754.4,1199.4 763.4,1200.7 772.5,1202.1 781.6,1207 790.6,1207.3 799.7,1207.8" fill="none" stroke="#0072BD" stroke-width="8.33" stroke-linejoin="round" stroke-dasharray="23.8 22.2" stroke-dashoffset="0.0"/><polyline points="799.7,1207.8 808.8,1153.1 817.9,1211.4" fill="none" stroke="#0072BD" stroke-width="8.33" stroke-linejoin="round" stroke-dasharray="23.8 22.2" stroke-dashoffset="27.9"/><polyline points="817.9,1211.4 826.9,1210.6 836,1211.1 845.1,1210.5 854.1,1214.3 863.2,1213.7 872.3,1217.1 881.4,1216.3 890.4,1219.1 899.5,1216.1 908.6,1219.9 917.6,1218.8 926.7,1222.1 935.8,1220.4 944.9,1224 953.9,1225.3 963,1224.6 972.1,1223.7 981.1,1224.3 990.2,1226.3 999.3,1229.6" fill="none" stroke="#0072BD" stroke-width="8.33" stroke-linejoin="round" stroke-dasharray="23.8 22.2" stroke-dashoffset="0.0"/><polyline points="999.3,1229.6 1008.3,1031 1017.4,1085.1 1026.5,1227.5" fill="none" stroke="#0072BD" stroke-width="8.33" stroke-linejoin="round" stroke-dasharray="23.8 22.2" stroke-dashoffset="27.3"/><polyline points="1026.5,1227.5 1035.6,1227 1044.6,1229.6 1053.7,1229.5 1062.8,1232.9 1071.8,1230.7 1080.9,1233.4 1090,1231.2 1099.1,1233 1108.1,1231.2 1117.2,1235.7" fill="none" stroke="#0072BD" stroke-width="8.33" stroke-linejoin="round" stroke-dasharray="23.8 22.2" stroke-dashoffset="0.0"/><polyline points="1117.2,1235.7 1126.3,1152.2 1135.3,1233.1" fill="none" stroke="#0072BD" stroke-width="8.33" stroke-linejoin="round" stroke-dasharray="23.8 22.2" stroke-dashoffset="42.0"/><polyline points="1135.3,1233.1 1144.4,1234.5 1153.5,1234.7 1162.6,1233.6 1171.6,1236 1180.7,1234.6 1189.8,1236.6 1198.8,1234.6 1207.9,1236.4 1217,1239.5 1226.1,1238.5 1235.1,1235.9 1244.2,1238.9 1253.3,1239.9 1262.3,1238.5 1271.4,1239.1 1280.5,1237.9 1289.5,1239.1 1298.6,1240.2 1307.7,1239.4 1316.8,1239.5 1325.8,1236.9 1334.9,1236.6 1344,1238.7 1353,1218.4 1362.1,1238.3 1371.2,1238.6 1380.3,1237.9 1389.3,1240.6 1398.4,1242.3 1407.5,1239.3 1416.5,1242 1425.6,1238.6 1434.7,1238.4 1443.8,1240.6 1452.8,1237.7 1461.9,1242 1471,1199.9 1480,1185.5 1489.1,1238.8 1498.2,1238.8 1507.2,1237.6 1516.3,1237.7 1525.4,1242.9 1534.5,1243 1543.5,1240.1 1552.6,1242.9 1561.7,1239.5 1570.7,1240.2 1579.8,1239.5 1588.9,1240.7 1598,1241.7 1607,1237.9 1616.1,1239.2 1625.2,1243.2 1634.2,1242.7 1643.3,1239.8 1652.4,1241.7 1661.5,1241 1670.5,1239 1679.6,1241.4 1688.7,1196.2 1697.7,1200.8 1706.8,1240.4 1715.9,1242.5 1724.9,1241.3 1734,1239.4 1743.1,1238.2 1752.2,1243.3 1761.2,1229.5 1770.3,1239.8 1779.4,1239.3 1788.4,1243.5 1797.5,1239.5 1806.6,1239.8 1815.7,1240.4 1824.7,1242.5 1833.8,1242 1842.9,1242.5 1851.9,1240 1861,1242.9 1870.1,1243 1879.2,1239.7 1888.2,1239.9 1897.3,1239.7 1906.4,1243.4" fill="none" stroke="#0072BD" stroke-width="8.33" stroke-linejoin="round" stroke-dasharray="23.8 22.2" stroke-dashoffset="0.0"/><use href="#mD" x="391.5" y="780.7"/><use href="#mD" x="400.6" y="857.5"/><use href="#mD" x="409.7" y="894.9"/><use href="#mD" x="418.7" y="940.8"/><use href="#mD" x="427.8" y="973.6"/><use href="#mD" x="436.9" y="991.7"/><use href="#mD" x="446" y="1009.2"/><use href="#mD" x="455" y="1030.1"/><use href="#mD" x="464.1" y="1045.3"/><use href="#mD" x="473.2" y="1062.5"/><use href="#mD" x="482.2" y="1071.3"/><use href="#mD" x="491.3" y="1084.5"/><use href="#mD" x="500.4" y="1089.8"/><use href="#mD" x="509.5" y="1096.9"/><use href="#mD" x="518.5" y="1108.1"/><use href="#mD" x="527.6" y="1112"/><use href="#mD" x="536.7" y="1121.1"/><use href="#mD" x="545.7" y="1124.4"/><use href="#mD" x="554.8" y="1131.4"/><use href="#mD" x="563.9" y="1131.1"/><use href="#mD" x="572.9" y="1138.5"/><use href="#mD" x="582" y="1139.8"/><use href="#mD" x="591.1" y="1144.6"/><use href="#mD" x="600.2" y="1147.8"/><use href="#mD" x="609.2" y="1155"/><use href="#mD" x="618.3" y="1158.7"/><use href="#mD" x="627.4" y="1158.8"/><use href="#mD" x="636.4" y="1164"/><use href="#mD" x="645.5" y="1163.7"/><use href="#mD" x="654.6" y="1168.2"/><use href="#mD" x="663.7" y="1170.4"/><use href="#mD" x="672.7" y="1171"/><use href="#mD" x="681.8" y="1176.3"/><use href="#mD" x="690.9" y="1181.6"/><use href="#mD" x="699.9" y="1184.2"/><use href="#mD" x="709" y="1185"/><use href="#mD" x="718.1" y="1188"/><use href="#mD" x="727.2" y="1190.2"/><use href="#mD" x="736.2" y="1194.2"/><use href="#mD" x="745.3" y="1195.5"/><use href="#mD" x="754.4" y="1199.4"/><use href="#mD" x="763.4" y="1200.7"/><use href="#mD" x="772.5" y="1202.1"/><use href="#mD" x="781.6" y="1207"/><use href="#mD" x="790.6" y="1207.3"/><use href="#mD" x="799.7" y="1207.8"/><use href="#mD" x="808.8" y="1153.1"/><use href="#mD" x="817.9" y="1211.4"/><use href="#mD" x="826.9" y="1210.6"/><use href="#mD" x="836" y="1211.1"/><use href="#mD" x="845.1" y="1210.5"/><use href="#mD" x="854.1" y="1214.3"/><use href="#mD" x="863.2" y="1213.7"/><use href="#mD" x="872.3" y="1217.1"/><use href="#mD" x="881.4" y="1216.3"/><use href="#mD" x="890.4" y="1219.1"/><use href="#mD" x="899.5" y="1216.1"/><use href="#mD" x="908.6" y="1219.9"/><use href="#mD" x="917.6" y="1218.8"/><use href="#mD" x="926.7" y="1222.1"/><use href="#mD" x="935.8" y="1220.4"/><use href="#mD" x="944.9" y="1224"/><use href="#mD" x="953.9" y="1225.3"/><use href="#mD" x="963" y="1224.6"/><use href="#mD" x="972.1" y="1223.7"/><use href="#mD" x="981.1" y="1224.3"/><use href="#mD" x="990.2" y="1226.3"/><use href="#mD" x="999.3" y="1229.6"/><use href="#mD" x="1008.3" y="1031"/><use href="#mD" x="1017.4" y="1085.1"/><use href="#mD" x="1026.5" y="1227.5"/><use href="#mD" x="1035.6" y="1227"/><use href="#mD" x="1044.6" y="1229.6"/><use href="#mD" x="1053.7" y="1229.5"/><use href="#mD" x="1062.8" y="1232.9"/><use href="#mD" x="1071.8" y="1230.7"/><use href="#mD" x="1080.9" y="1233.4"/><use href="#mD" x="1090" y="1231.2"/><use href="#mD" x="1099.1" y="1233"/><use href="#mD" x="1108.1" y="1231.2"/><use href="#mD" x="1117.2" y="1235.7"/><use href="#mD" x="1126.3" y="1152.2"/><use href="#mD" x="1135.3" y="1233.1"/><use href="#mD" x="1144.4" y="1234.5"/><use href="#mD" x="1153.5" y="1234.7"/><use href="#mD" x="1162.6" y="1233.6"/><use href="#mD" x="1171.6" y="1236"/><use href="#mD" x="1180.7" y="1234.6"/><use href="#mD" x="1189.8" y="1236.6"/><use href="#mD" x="1198.8" y="1234.6"/><use href="#mD" x="1207.9" y="1236.4"/><use href="#mD" x="1217" y="1239.5"/><use href="#mD" x="1226.1" y="1238.5"/><use href="#mD" x="1235.1" y="1235.9"/><use href="#mD" x="1244.2" y="1238.9"/><use href="#mD" x="1253.3" y="1239.9"/><use href="#mD" x="1262.3" y="1238.5"/><use href="#mD" x="1271.4" y="1239.1"/><use href="#mD" x="1280.5" y="1237.9"/><use href="#mD" x="1289.5" y="1239.1"/><use href="#mD" x="1298.6" y="1240.2"/><use href="#mD" x="1307.7" y="1239.4"/><use href="#mD" x="1316.8" y="1239.5"/><use href="#mD" x="1325.8" y="1236.9"/><use href="#mD" x="1334.9" y="1236.6"/><use href="#mD" x="1344" y="1238.7"/><use href="#mD" x="1353" y="1218.4"/><use href="#mD" x="1362.1" y="1238.3"/><use href="#mD" x="1371.2" y="1238.6"/><use href="#mD" x="1380.3" y="1237.9"/><use href="#mD" x="1389.3" y="1240.6"/><use href="#mD" x="1398.4" y="1242.3"/><use href="#mD" x="1407.5" y="1239.3"/><use href="#mD" x="1416.5" y="1242"/><use href="#mD" x="1425.6" y="1238.6"/><use href="#mD" x="1434.7" y="1238.4"/><use href="#mD" x="1443.8" y="1240.6"/><use href="#mD" x="1452.8" y="1237.7"/><use href="#mD" x="1461.9" y="1242"/><use href="#mD" x="1471" y="1199.9"/><use href="#mD" x="1480" y="1185.5"/><use href="#mD" x="1489.1" y="1238.8"/><use href="#mD" x="1498.2" y="1238.8"/><use href="#mD" x="1507.2" y="1237.6"/><use href="#mD" x="1516.3" y="1237.7"/><use href="#mD" x="1525.4" y="1242.9"/><use href="#mD" x="1534.5" y="1243"/><use href="#mD" x="1543.5" y="1240.1"/><use href="#mD" x="1552.6" y="1242.9"/><use href="#mD" x="1561.7" y="1239.5"/><use href="#mD" x="1570.7" y="1240.2"/><use href="#mD" x="1579.8" y="1239.5"/><use href="#mD" x="1588.9" y="1240.7"/><use href="#mD" x="1598" y="1241.7"/><use href="#mD" x="1607" y="1237.9"/><use href="#mD" x="1616.1" y="1239.2"/><use href="#mD" x="1625.2" y="1243.2"/><use href="#mD" x="1634.2" y="1242.7"/><use href="#mD" x="1643.3" y="1239.8"/><use href="#mD" x="1652.4" y="1241.7"/><use href="#mD" x="1661.5" y="1241"/><use href="#mD" x="1670.5" y="1239"/><use href="#mD" x="1679.6" y="1241.4"/><use href="#mD" x="1688.7" y="1196.2"/><use href="#mD" x="1697.7" y="1200.8"/><use href="#mD" x="1706.8" y="1240.4"/><use href="#mD" x="1715.9" y="1242.5"/><use href="#mD" x="1724.9" y="1241.3"/><use href="#mD" x="1734" y="1239.4"/><use href="#mD" x="1743.1" y="1238.2"/><use href="#mD" x="1752.2" y="1243.3"/><use href="#mD" x="1761.2" y="1229.5"/><use href="#mD" x="1770.3" y="1239.8"/><use href="#mD" x="1779.4" y="1239.3"/><use href="#mD" x="1788.4" y="1243.5"/><use href="#mD" x="1797.5" y="1239.5"/><use href="#mD" x="1806.6" y="1239.8"/><use href="#mD" x="1815.7" y="1240.4"/><use href="#mD" x="1824.7" y="1242.5"/><use href="#mD" x="1833.8" y="1242"/><use href="#mD" x="1842.9" y="1242.5"/><use href="#mD" x="1851.9" y="1240"/><use href="#mD" x="1861" y="1242.9"/><use href="#mD" x="1870.1" y="1243"/><use href="#mD" x="1879.2" y="1239.7"/><use href="#mD" x="1888.2" y="1239.9"/><use href="#mD" x="1897.3" y="1239.7"/><use href="#mD" x="1906.4" y="1243.4"/></g><g font-size="94.5" fill="#262626" stroke="#262626" stroke-width="1.6"><text x="321" y="1369.2" text-anchor="middle">0</text><text x="774.5" y="1369.2" text-anchor="middle">20</text><text x="1228.1" y="1369.2" text-anchor="middle">40</text><text x="1681.6" y="1369.2" text-anchor="middle">60</text><text x="292" y="1278.7" text-anchor="end">0</text><text x="292" y="1047.3" text-anchor="end">0.5</text><text x="292" y="816" text-anchor="end">1</text><text x="292" y="584.6" text-anchor="end">1.5</text><text x="292" y="353.3" text-anchor="end">2</text><text x="292" y="121.9" text-anchor="end">2.5</text></g><g font-size="107.2" fill="#262626" stroke="#262626" stroke-width="0.8"><text transform="translate(1114,1507.8) scale(1,1.02)" text-anchor="middle">Two-Theta (deg)</text><text transform="translate(118.1,666) rotate(-90) scale(1,1.02)" text-anchor="middle">Relative intensity (a.u)</text></g><g shape-rendering="crispEdges"><g><rect x="1324" y="136.4" width="537.5" height="274.9" fill="#fff" stroke="#262626" stroke-width="2.8"/><path d="M1338.1,176H1483" stroke="#77AC30" stroke-width="8.33"/><use href="#mA" x="1410.5" y="176"/><text x="1493.6" y="193.6" font-size="48.4" fill="#000" stroke="#000" stroke-width="1.3">WO</text><path d="M1338.1,241H1483" stroke="#FF0000" stroke-width="8.33"/><use href="#mS" x="1410.5" y="241"/><text x="1493.6" y="258.6" font-size="48.4" fill="#000" stroke="#000" stroke-width="1.3" textLength="240.1" lengthAdjust="spacingAndGlyphs">TA (120°C)</text><path d="M1338.1,306.6H1483" stroke="#FF00FF" stroke-width="8.33"/><use href="#mQ" x="1410.5" y="306.6"/><text x="1493.6" y="324.2" font-size="48.4" fill="#000" stroke="#000" stroke-width="1.3">SVA</text><path d="M1338.1,372.2H1483" stroke="#0072BD" stroke-width="8.33" stroke-dasharray="23.8 22.2"/><use href="#mD" x="1410.5" y="372.2"/><text x="1491.9" y="389.8" font-size="48.4" fill="#000" stroke="#000" stroke-width="1.3" textLength="356.5" lengthAdjust="spacingAndGlyphs">Reference (ITO)</text></g><path d="M540,619.2A98.15,500 0 0 0 343.7,619.2A98.15,500 0 0 0 540,619.2" fill="none" stroke="#000" stroke-width="15" stroke-dasharray="58.3 57.28"/></g></svg></body></html>
